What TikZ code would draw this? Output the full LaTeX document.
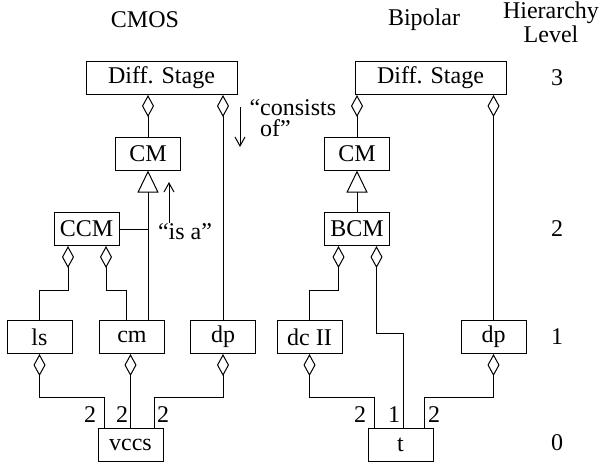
\documentclass[tikz,border=0pt]{standalone}
\usepackage{fontspec}
\setmainfont{Liberation Serif}
\usetikzlibrary{arrows.meta,positioning}
\begin{document}
\begin{tikzpicture}[x=0.5pt,y=-0.5pt,
  font=\fontsize{12}{10.5}\selectfont,
  every path/.style={line width=0.5pt},
  box/.style={draw, inner sep=0pt, minimum width=32.5pt, minimum height=16.5pt},
  widebox/.style={box, minimum width=75.5pt},
  lbl/.style={inner sep=0pt},
  agg/.style={{Diamond[open,length=11pt,width=6pt]}-},
  isa/.style={-{Triangle[open,length=11pt,width=10.5pt]}},
  note/.style={-{Straight Barb[length=4.5pt,width=5pt]}}]
\useasboundingbox (0,0) rectangle (600,468);
% titles
\node[lbl] (tcmos) at (145,20) {CMOS};
\node[lbl] (tbip) at (424,20) {Bipolar};
\node[lbl, align=center] (thier) at (551,22) {Hierarchy\\Level};
\node[lbl] (l3) at (557,78) {3};
\node[lbl] (l2) at (557,229) {2};
\node[lbl] (l1) at (557,337) {1};
\node[lbl] (l0) at (557,443) {0};
% CMOS
\node[widebox] (dsL) at (161.5,78) {Diff. Stage};
\node[box] (cmL) at (148,153.5) {CM};
\node[box] (ccm) at (86.5,229) {CCM};
\node[box] (ls) at (39.5,337) {ls};
\node[box] (cm) at (132,337) {cm};
\node[box] (dpL) at (223,337) {dp};
\node[box] (vccs) at (130.5,445) {vccs};
% Bipolar
\node[widebox] (dsR) at (430.5,78) {Diff. Stage};
\node[box] (cmR) at (357,153.5) {CM};
\node[box] (bcm) at (357,229) {BCM};
\node[box] (dc) at (309.5,337) {dc II};
\node[box] (dpR) at (493.5,337) {dp};
\node[box] (t) at (400.5,445) {t};
% CMOS connectors
\draw[agg] (cmL |- dsL.south) -- (cmL.north);
\draw[agg] (dpL |- dsL.south) -- (dpL.north);
\draw[isa] (cmL.south |- cm.north) -- (cmL.south);
\draw (ccm.east) -- (ccm.east -| cmL.south);
\draw[agg] ([xshift=-9.25pt]ccm.south) -- ++(0,44) -| (ls.north);
\draw[agg] ([xshift=9.75pt]ccm.south) -- ++(0,44) -| ([xshift=-3pt]cm.north);
\draw[agg] (ls.south) -- ++(0,43) -| ([xshift=-13.25pt]vccs.north);
\draw[agg] (vccs.north |- cm.south) -- (vccs.north);
\draw[agg] (dpL.south) -- ++(0,43) -| ([xshift=11.75pt]vccs.north);
% Bipolar connectors
\draw[agg] (cmR |- dsR.south) -- (cmR.north);
\draw[agg] (dpR |- dsR.south) -- (dpR.north);
\draw[isa] (bcm.north) -- (cmR.south);
\draw[agg] ([xshift=-9.25pt]bcm.south) -- ++(0,44) -| (dc.north);
\draw[agg] ([xshift=9.75pt]bcm.south) -- ++(0,87) -| ([xshift=1.25pt]t.north);
\draw[agg] (dc.south) -- ++(0,43) -| ([xshift=-13.25pt]t.north);
\draw[agg] (dpR.south) -- ++(0,43) -| ([xshift=11.75pt]t.north);
% multiplicities
\node[lbl] (m1) at (90,415) {2};
\node[lbl] (m2) at (122,415) {2};
\node[lbl] (m3) at (163,415) {2};
\node[lbl] (m4) at (360,415) {2};
\node[lbl] (m5) at (394,415) {1};
\node[lbl] (m6) at (434,415) {2};
% annotations
\coordinate (ca) at (240,107);
\coordinate (cb) at (240,147);
\draw[note] (ca) -- (cb);
\node[lbl, align=left, anchor=west] (tcons) at (249,118) {“consists\\\phantom{“}of”};
\coordinate (ia) at (169,223);
\coordinate (ib) at (169,182);
\draw[note] (ia) -- (ib);
\node[lbl] (tisa) at (185,232) {“is a”};
\end{tikzpicture}
\end{document}
